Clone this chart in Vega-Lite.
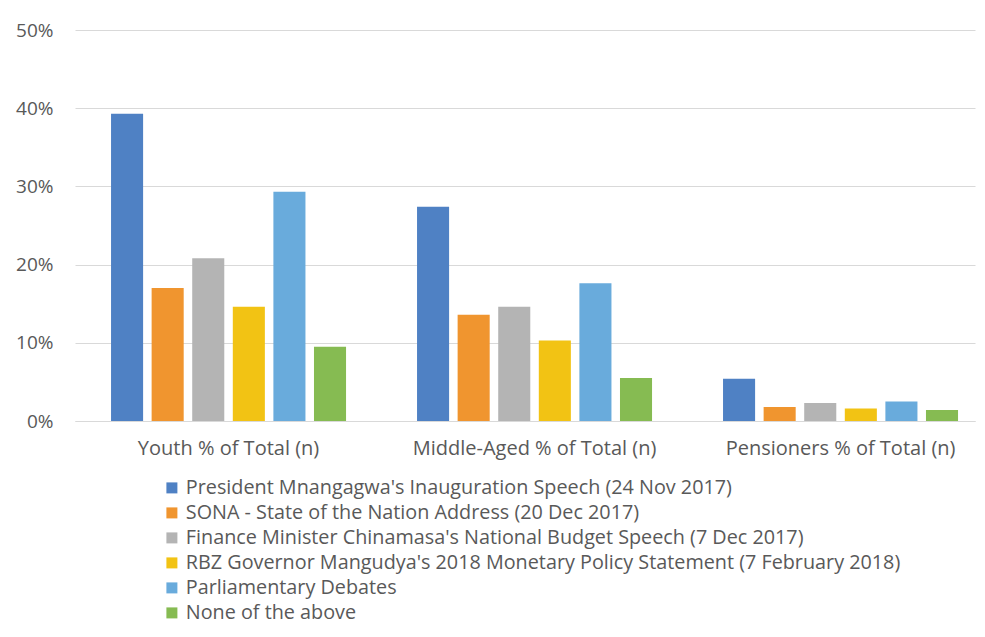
{
  "$schema": "https://vega.github.io/schema/vega-lite/v6.json",
  "autosize": "none",
  "width": 900,
  "height": 391,
  "padding": {"left": 75, "top": 30, "right": 10, "bottom": 216},
  "background": "white",
  "data": {"values": [
    {"group": "Youth % of Total (n)", "source": "President Mnangagwa's Inauguration Speech (24 Nov 2017)", "value": 0.393},
    {"group": "Youth % of Total (n)", "source": "SONA - State of the Nation Address (20 Dec 2017)", "value": 0.170},
    {"group": "Youth % of Total (n)", "source": "Finance Minister Chinamasa's National Budget Speech (7 Dec 2017)", "value": 0.208},
    {"group": "Youth % of Total (n)", "source": "RBZ Governor Mangudya's 2018 Monetary Policy Statement (7 February 2018)", "value": 0.146},
    {"group": "Youth % of Total (n)", "source": "Parliamentary Debates", "value": 0.293},
    {"group": "Youth % of Total (n)", "source": "None of the above", "value": 0.095},
    {"group": "Middle-Aged % of Total (n)", "source": "President Mnangagwa's Inauguration Speech (24 Nov 2017)", "value": 0.274},
    {"group": "Middle-Aged % of Total (n)", "source": "SONA - State of the Nation Address (20 Dec 2017)", "value": 0.136},
    {"group": "Middle-Aged % of Total (n)", "source": "Finance Minister Chinamasa's National Budget Speech (7 Dec 2017)", "value": 0.146},
    {"group": "Middle-Aged % of Total (n)", "source": "RBZ Governor Mangudya's 2018 Monetary Policy Statement (7 February 2018)", "value": 0.103},
    {"group": "Middle-Aged % of Total (n)", "source": "Parliamentary Debates", "value": 0.176},
    {"group": "Middle-Aged % of Total (n)", "source": "None of the above", "value": 0.055},
    {"group": "Pensioners % of Total (n)", "source": "President Mnangagwa's Inauguration Speech (24 Nov 2017)", "value": 0.054},
    {"group": "Pensioners % of Total (n)", "source": "SONA - State of the Nation Address (20 Dec 2017)", "value": 0.018},
    {"group": "Pensioners % of Total (n)", "source": "Finance Minister Chinamasa's National Budget Speech (7 Dec 2017)", "value": 0.023},
    {"group": "Pensioners % of Total (n)", "source": "RBZ Governor Mangudya's 2018 Monetary Policy Statement (7 February 2018)", "value": 0.016},
    {"group": "Pensioners % of Total (n)", "source": "Parliamentary Debates", "value": 0.025},
    {"group": "Pensioners % of Total (n)", "source": "None of the above", "value": 0.014}
  ]},
  "mark": {"type": "bar"},
  "encoding": {
    "x": {
      "field": "group", "type": "nominal", "sort": null,
      "scale": {"paddingInner": 0.232, "paddingOuter": 0.0866, "align": 0.68},
      "axis": {"title": null, "labelAngle": 0, "ticks": false, "domain": true, "domainColor": "#d9d9d9", "labelPadding": 17, "labelFontSize": 20, "labelColor": "#595959", "labelFont": "Open Sans", "labelLimit": 400}
    },
    "xOffset": {
      "field": "source", "type": "nominal", "sort": null,
      "scale": {"paddingInner": 0.21, "paddingOuter": 0}
    },
    "y": {
      "field": "value", "type": "quantitative",
      "scale": {"domain": [0, 0.5], "nice": false},
      "axis": {"title": null, "format": ".0%", "values": [0, 0.1, 0.2, 0.3, 0.4, 0.5], "labelOverlap": false, "domain": false, "ticks": false, "labelPadding": 22, "labelFontSize": 19, "labelColor": "#595959", "labelFont": "Open Sans", "gridColor": "#d9d9d9", "gridWidth": 1}
    },
    "color": {
      "field": "source", "type": "nominal", "sort": null,
      "scale": {
        "domain": ["President Mnangagwa's Inauguration Speech (24 Nov 2017)", "SONA - State of the Nation Address (20 Dec 2017)", "Finance Minister Chinamasa's National Budget Speech (7 Dec 2017)", "RBZ Governor Mangudya's 2018 Monetary Policy Statement (7 February 2018)", "Parliamentary Debates", "None of the above"],
        "range": ["#4f81c4", "#f0952f", "#b4b4b4", "#f2c314", "#69abdc", "#86bb52"]
      },
      "legend": {
        "title": null, "orient": "none", "legendX": 87, "legendY": 448,
        "symbolType": "square", "symbolSize": 121, "symbolStrokeWidth": 0,
        "labelFontSize": 19.8, "labelColor": "#595959", "labelFont": "Open Sans",
        "rowPadding": 4, "labelOffset": 4, "labelLimit": 900
      }
    }
  },
  "config": {"view": {"stroke": null}}
}
